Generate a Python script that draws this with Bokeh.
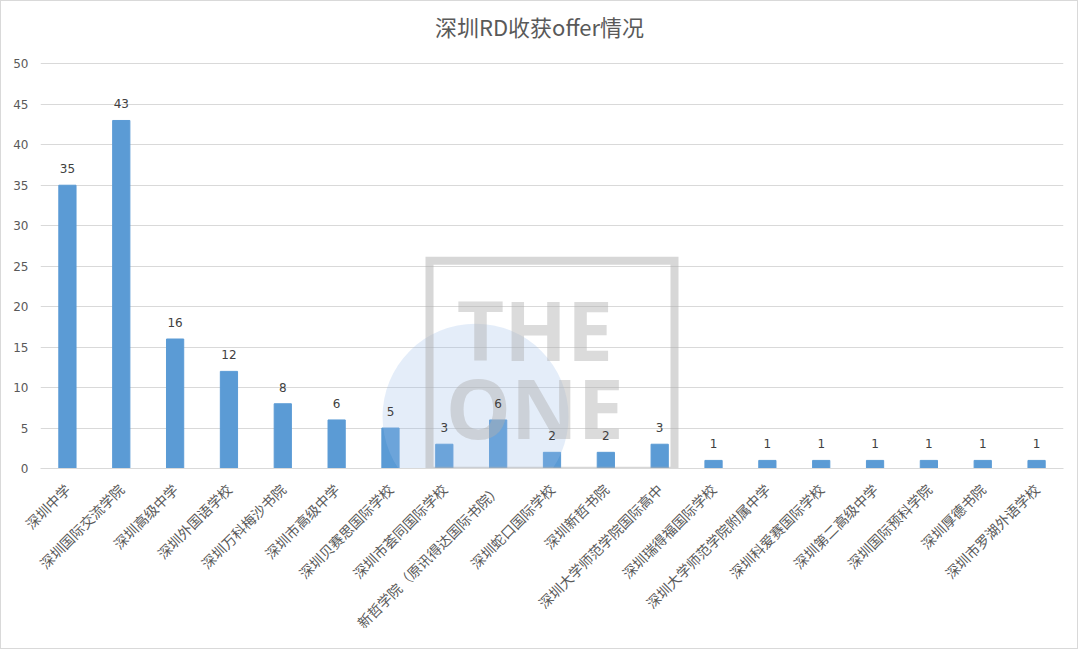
from bokeh.plotting import figure
from bokeh.models import ColumnDataSource, Range1d, FactorRange, FixedTicker, Label, LabelSet
from bokeh.core.properties import value
from bokeh.embed import file_html
from bokeh.resources import INLINE

schools = [
    "深圳中学", "深圳国际交流学院", "深圳高级中学", "深圳外国语学校", "深圳万科梅沙书院",
    "深圳市高级中学", "深圳贝赛思国际学校", "深圳市荟同国际学校", "新哲学院（原讯得达国际书院）",
    "深圳蛇口国际学校", "深圳新哲书院", "深圳大学师范学院国际高中", "深圳瑞得福国际学校",
    "深圳大学师范学院附属中学", "深圳科爱赛国际学校", "深圳第二高级中学", "深圳国际预科学院",
    "深圳厚德书院", "深圳市罗湖外语学校",
]
offers = [35, 43, 16, 12, 8, 6, 5, 3, 6, 2, 2, 3, 1, 1, 1, 1, 1, 1, 1]
y_ticks = [0, 5, 10, 15, 20, 25, 30, 35, 40, 45, 50]
title_text = "深圳RD收获offer情况"

CJK = "Noto Sans CJK SC"
NUM = "DejaVu Sans"

src = ColumnDataSource(dict(school=schools, offers=offers, label=[str(v) for v in offers]))

# the frame reaches the top of the chart so that the title can sit inside it;
# only the ticks 0..50 are shown, as in the original
p = figure(
    width=1078, height=649,
    x_range=FactorRange(factors=schools, range_padding=0),
    y_range=Range1d(0, 57.7),
    output_backend="svg", toolbar_location=None,
    min_border_left=39, min_border_right=16, min_border_top=0, min_border_bottom=182,
    outline_line_color=None,
)
p.x_range.range_padding = 0
p.styles = {"border": "1px solid #d9d9d9", "box-sizing": "border-box"}

title = Label(x=499, y=443, x_units="screen", y_units="screen", text=title_text,
              text_align="center", text_baseline="middle", text_font=CJK,
              text_font_size="22px", text_color="#595959")
p.add_layout(title)

p.vbar(x="school", top="offers", width=0.32, source=src, color="#5b9bd5")

labels = LabelSet(x="school", y="offers", text="label", source=src, text_align="center",
                  text_baseline="bottom", y_offset=12, text_font=value(NUM),
                  text_font_size="12px", text_color="#404040")
p.add_layout(labels)

# watermark
p.scatter(x=[("新哲学院（原讯得达国际书院）", -0.42)], y=[6.4], size=186,
          fill_color="#9dbbe8", fill_alpha=0.27, line_color=None)
p.rect(x=[("深圳蛇口国际学校", 0.0)], y=[12.7], width=4.55, height=25.95,
       fill_color=None, line_color="#b0b0b0", line_alpha=0.5, line_width=8,
       line_join="miter")
p.text(x=[("深圳蛇口国际学校", -0.32), ("深圳蛇口国际学校", -0.32)], y=[17.2, 7.65],
       text=["THE", "ONE"], text_align="center", text_baseline="middle",
       text_font=value("Open Sans"), text_font_style="bold", text_font_size="82px",
       text_color="#b0b0b0", text_alpha=0.45)

p.yaxis.ticker = FixedTicker(ticks=y_ticks)
p.yaxis.axis_line_color = None
p.yaxis.major_tick_line_color = None
p.yaxis.minor_tick_line_color = None
p.yaxis.major_label_text_font = NUM
p.yaxis.major_label_text_font_size = "12px"
p.yaxis.major_label_text_color = "#595959"
p.yaxis.major_label_standoff = 6

p.xaxis.axis_line_color = "#d9d9d9"
p.xaxis.major_tick_line_color = None
p.xaxis.minor_tick_line_color = None
p.xaxis.major_label_orientation = 0.785398
p.xaxis.major_label_text_font = CJK
p.xaxis.major_label_text_font_size = "14px"
p.xaxis.major_label_text_color = "#595959"
p.xaxis.major_label_standoff = 12

p.xgrid.grid_line_color = None
p.ygrid.grid_line_color = "#d9d9d9"
p.ygrid.grid_line_width = 1

open("out.html", "w").write(file_html(p, INLINE))
